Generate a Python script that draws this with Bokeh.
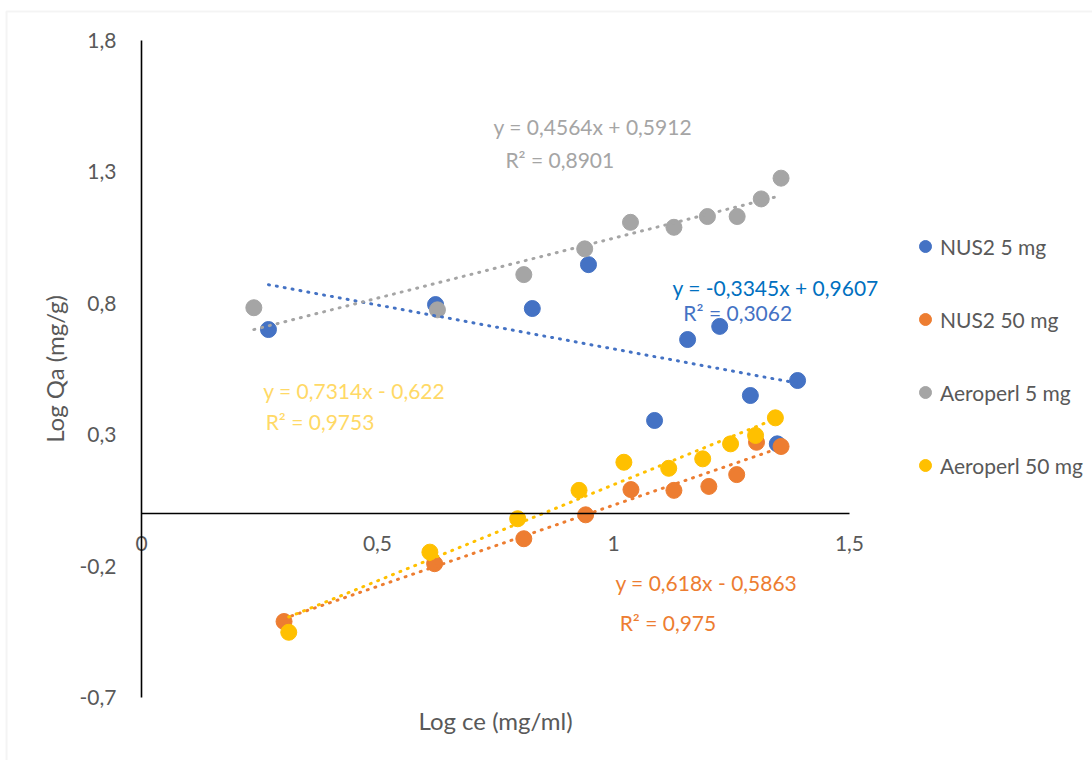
from bokeh.plotting import figure
from bokeh.models import (Range1d, FixedTicker, CustomJSTickFormatter, Label, Legend,
                          LegendItem, BoxAnnotation)
from bokeh.embed import file_html
from bokeh.resources import INLINE

# ---- data ----
nus2_5_x = [0.269, 0.623, 0.828, 0.947, 1.087, 1.157, 1.225, 1.290, 1.347, 1.390]
nus2_5_y = [0.700, 0.795, 0.780, 0.947, 0.354, 0.662, 0.712, 0.449, 0.265, 0.506]

nus2_50_x = [0.302, 0.621, 0.810, 0.941, 1.037, 1.128, 1.202, 1.261, 1.303, 1.355]
nus2_50_y = [-0.411, -0.191, -0.096, -0.005, 0.091, 0.088, 0.103, 0.148, 0.271, 0.255]

aero_5_x = [0.238, 0.627, 0.810, 0.939, 1.036, 1.128, 1.199, 1.262, 1.313, 1.355]
aero_5_y = [0.783, 0.775, 0.909, 1.007, 1.108, 1.089, 1.130, 1.130, 1.197, 1.276]

aero_50_x = [0.312, 0.611, 0.797, 0.927, 1.022, 1.117, 1.189, 1.248, 1.301, 1.343]
aero_50_y = [-0.452, -0.147, -0.020, 0.088, 0.195, 0.172, 0.208, 0.265, 0.297, 0.364]

series_names = ["NUS2 5 mg", "NUS2 50 mg", "Aeroperl 5 mg", "Aeroperl 50 mg"]
trend_slopes = [-0.3345, 0.618, 0.4564, 0.7314]
trend_intercepts = [0.9607, -0.5863, 0.5912, -0.622]
trend_eq_texts = ["y = -0,3345x + 0,9607", "y = 0,618x - 0,5863",
                  "y = 0,4564x + 0,5912", "y = 0,7314x - 0,622"]
trend_r2_texts = ["R² = 0,3062", "R² = 0,975", "R² = 0,8901", "R² = 0,9753"]

x_ticks = [0, 0.5, 1, 1.5]
y_ticks = [-0.7, -0.2, 0.3, 0.8, 1.3, 1.8]
x_bounds = (0, 1.5)
y_bounds = (-0.7, 1.8)

x_title = "Log ce (mg/ml)"
y_title = "Log Qa (mg/g)"

# ---- styles ----
colors = ["#4472C4", "#ED7D31", "#A5A5A5", "#FFC000"]
eq_colors = ["#0070C0", "#ED7D31", "#A5A5A5", "#FFD966"]
r2_colors = ["#4472C4", "#ED7D31", "#A5A5A5", "#FFD966"]
FONT = "Lato"
FS = "21px"
FS_TITLE = "24px"
FS_LEG = "21px"
TXT = "#595959"

# the frame covers the whole canvas; axes sit at fixed data locations inside it
W, H = 1092, 760
X0PX, PXX = 141.0, 472.0      # pixel of x=0, pixels per x unit
Y0PX, PXY = 513.0, 262.8      # pixel of y=0, pixels per y unit
x_range = Range1d(-X0PX / PXX, (W - X0PX) / PXX)
y_range = Range1d((Y0PX - H) / PXY, Y0PX / PXY)

p = figure(width=W, height=H, output_backend="svg", toolbar_location=None,
           x_range=x_range, y_range=y_range,
           min_border_left=0, min_border_right=0, min_border_top=0, min_border_bottom=0)
p.outline_line_color = None
p.grid.visible = False
p.background_fill_color = "white"
p.border_fill_color = "white"

fmt = CustomJSTickFormatter(code="""
    const r = Math.round(tick * 10) / 10;
    return String(r).replace('.', ',');
""")

xa = p.xaxis[0]
xa.fixed_location = 0
xa.bounds = x_bounds
xa.ticker = FixedTicker(ticks=x_ticks)
xa.formatter = fmt
xa.axis_line_color = "black"
xa.axis_line_width = 1.6
xa.major_tick_line_color = None
xa.minor_tick_line_color = None
xa.major_label_standoff = 16
xa.major_label_text_font = FONT
xa.major_label_text_font_size = FS
xa.major_label_text_color = TXT

ya = p.yaxis[0]
ya.fixed_location = 0
ya.bounds = y_bounds
ya.ticker = FixedTicker(ticks=y_ticks)
ya.formatter = fmt
ya.axis_line_color = "black"
ya.axis_line_width = 1.6
ya.major_tick_line_color = None
ya.minor_tick_line_color = None
ya.major_label_standoff = 19
ya.major_label_text_font = FONT
ya.major_label_text_font_size = FS
ya.major_label_text_color = TXT
ya.axis_label = y_title
ya.axis_label_text_font = FONT
ya.axis_label_text_font_size = FS_TITLE
ya.axis_label_text_font_style = "normal"
ya.axis_label_text_color = TXT
ya.axis_label_standoff = 8

xs_all = [nus2_5_x, nus2_50_x, aero_5_x, aero_50_x]
ys_all = [nus2_5_y, nus2_50_y, aero_5_y, aero_50_y]

renderers = []
for xs, ys, c in zip(xs_all, ys_all, colors):
    r = p.scatter(xs, ys, size=16, marker="circle", fill_color=c, line_color=c)
    renderers.append(r)

for xs, m, b, c in zip(xs_all, trend_slopes, trend_intercepts, colors):
    x0, x1 = min(xs), max(xs)
    p.line([x0, x1], [m * x0 + b, m * x1 + b], line_color=c, line_width=3,
           line_dash="1 7", line_cap="round")

# equation label anchor positions (left, middle), data units
eq_pos = [(1.125, 0.860), (1.004, -0.263), (0.746, 1.473), (0.258, 0.468)]
r2_pos = [(1.148, 0.765), (1.013, -0.415), (0.771, 1.347), (0.263, 0.350)]
for i in range(4):
    p.add_layout(Label(x=eq_pos[i][0], y=eq_pos[i][1], text=trend_eq_texts[i],
                       text_font=FONT, text_font_size=FS, text_color=eq_colors[i],
                       text_baseline="middle", text_align="left"))
    p.add_layout(Label(x=r2_pos[i][0], y=r2_pos[i][1], text=trend_r2_texts[i],
                       text_font=FONT, text_font_size=FS, text_color=r2_colors[i],
                       text_baseline="middle", text_align="left"))

# x axis title
p.add_layout(Label(x=(x_bounds[0] + x_bounds[1]) / 2, y=-0.788, text=x_title,
                   text_font=FONT, text_font_size=FS_TITLE,
                   text_color=TXT, text_baseline="middle", text_align="center"))

legend = Legend(items=[LegendItem(label=n, renderers=[r]) for n, r in zip(series_names, renderers)],
                location=(910, 280), orientation="vertical",
                border_line_color=None, background_fill_alpha=0,
                label_text_font=FONT, label_text_font_size=FS_LEG, label_text_color=TXT,
                glyph_width=30, glyph_height=30, label_height=24, spacing=43,
                padding=0, margin=0, label_standoff=0)
p.add_layout(legend, "center")

# chart area border
p.add_layout(BoxAnnotation(left=-0.286, right=2.2, top=1.91, bottom=-1.1,
                           fill_color=None, line_color="#D9D9D9", line_width=2))

open("out.html", "w").write(file_html(p, INLINE))
